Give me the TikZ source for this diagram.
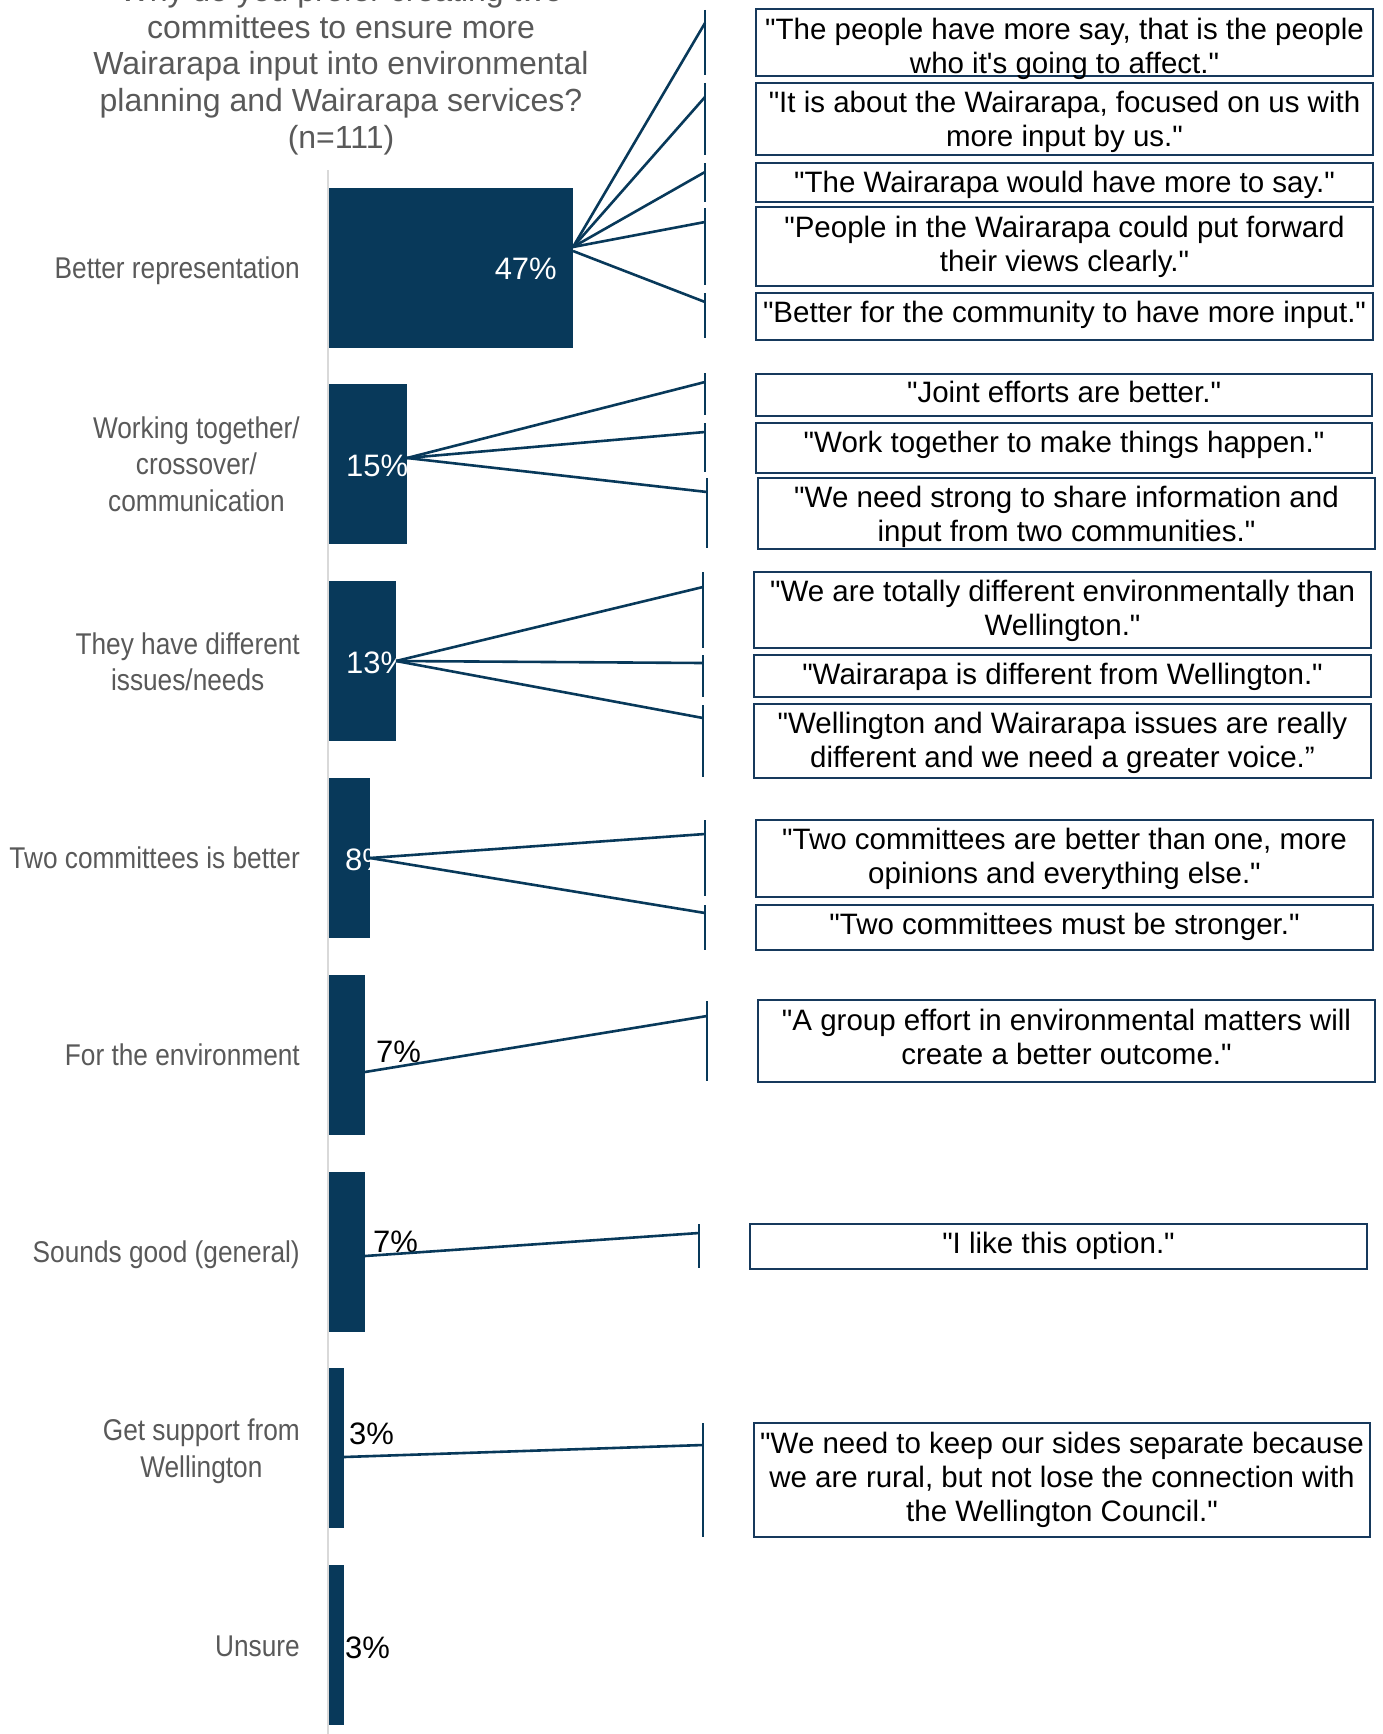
\documentclass[tikz,border=0pt]{standalone}
\usepackage{fontspec}
\setmainfont{Liberation Sans}[Ligatures=TeXOff]
\newfontfamily\narrowfont{Liberation Sans}[FakeStretch=0.875,Ligatures=TeXOff]
\definecolor{barblue}{RGB}{8,57,90}
\definecolor{boxblue}{RGB}{22,57,92}
\definecolor{labgrey}{RGB}{89,89,89}
\definecolor{axisgrey}{RGB}{217,217,217}
\begin{document}
\begin{tikzpicture}[x=1pt,y=-1pt,
  bar/.style={fill=barblue, draw=none, inner sep=0, outer sep=0, anchor=north west, minimum height=160},
  conn/.style={draw=barblue, line width=2.6},
  lab/.style={text=labgrey, align=center, inner sep=0, anchor=east, font=\narrowfont\fontsize{30}{36.5}\selectfont},
  pctw/.style={text=white, inner sep=0, font=\fontsize{31}{36}\selectfont},
  pctb/.style={text=black, inner sep=0, font=\fontsize{31}{36}\selectfont},
  qbox/.style={draw=boxblue, line width=2.6, inner sep=0},
  qtext/.style={align=center, inner sep=0, text=black, font=\fontsize{29.5}{34}\selectfont},
  ttl/.style={text=labgrey, align=center, inner sep=0, font=\fontsize{32}{36.7}\selectfont}]
\useasboundingbox (0,0) rectangle (1382,1734);

% title
\node[ttl] (title) at (341,66.5) {Why do you prefer creating two\\committees to ensure more\\Wairarapa input into environmental\\planning and Wairarapa services?\\(n=111)};

% axis
\draw[axisgrey, line width=2] (328,170) -- (328,1734);

% bars
\node[bar, minimum width=244] (bar1) at (329,188) {};
\node[bar, minimum width=78]  (bar2) at (329,384) {};
\node[bar, minimum width=67]  (bar3) at (329,581) {};
\node[bar, minimum width=41]  (bar4) at (329,778) {};
\node[bar, minimum width=36]  (bar5) at (329,975) {};
\node[bar, minimum width=36]  (bar6) at (329,1172) {};
\node[bar, minimum width=15]  (bar7) at (329,1368) {};
\node[bar, minimum width=15]  (bar8) at (329,1565) {};

% category labels
\node[lab] (l1) at (300,271) {Better representation};
\node[lab] (l2) at (300,464) {Working together/\\crossover/\\communication};
\node[lab] (l3) at (300,662) {They have different\\issues/needs};
\node[lab] (l4) at (300,858) {Two committees is better};
\node[lab] (l5) at (300,1055) {For the environment};
\node[lab] (l6) at (300,1255) {Sounds good (general)};
\node[lab] (l7) at (300,1451) {Get support from\\Wellington};
\node[lab] (l8) at (300,1646) {Unsure};

% percentages
\node[pctw, anchor=east] (p1) at (557,269) {47\%};
\node[pctw, anchor=west] (p2) at (346,466) {15\%};
\node[pctw, anchor=west] (p3) at (346,663) {13\%};
\node[pctw, anchor=west] (p4) at (345,860) {8\%};
\node[pctb, anchor=west] (p5) at (376,1052) {7\%};
\node[pctb, anchor=west] (p6) at (373,1242) {7\%};
\node[pctb, anchor=west] (p7) at (349,1434) {3\%};
\node[pctb, anchor=west] (p8) at (345,1648) {3\%};

% quote boxes
\node[qbox, minimum width=617, minimum height=67]  (q1)  at (1064.5,42.5) {};
\node[qbox, minimum width=617, minimum height=72]  (q2)  at (1064.5,119) {};
\node[qbox, minimum width=617, minimum height=39]  (q3)  at (1064.5,182.5) {};
\node[qbox, minimum width=617, minimum height=79]  (q4)  at (1064.5,246.5) {};
\node[qbox, minimum width=617, minimum height=47]  (q5)  at (1064.5,316.5) {};
\node[qbox, minimum width=616, minimum height=42]  (q6)  at (1064,395) {};
\node[qbox, minimum width=616, minimum height=50]  (q7)  at (1064,448) {};
\node[qbox, minimum width=617, minimum height=71]  (q8)  at (1066.5,513.5) {};
\node[qbox, minimum width=617, minimum height=76]  (q9)  at (1062.5,610) {};
\node[qbox, minimum width=617, minimum height=42]  (q10) at (1062.5,676) {};
\node[qbox, minimum width=617, minimum height=74]  (q11) at (1062.5,741) {};
\node[qbox, minimum width=617, minimum height=77]  (q12) at (1064.5,858.5) {};
\node[qbox, minimum width=617, minimum height=45]  (q13) at (1064.5,927.5) {};
\node[qbox, minimum width=617, minimum height=82]  (q14) at (1066.5,1041) {};
\node[qbox, minimum width=617, minimum height=45]  (q15) at (1058.5,1246.5) {};
\node[qbox, minimum width=616, minimum height=114] (q16) at (1062,1480) {};

% quote texts
\node[qtext] (q1t)  at (1064.5,48.5) {"The people have more say, that is the people\\who it's going to affect."};
\node[qtext] (q2t)  at (1064.5,122) {"It is about the Wairarapa, focused on us with\\more input by us."};
\node[qtext] (q3t)  at (1064.5,184.5) {"The Wairarapa would have more to say."};
\node[qtext] (q4t)  at (1064.5,246.5) {"People in the Wairarapa could put forward\\their views clearly."};
\node[qtext] (q5t)  at (1064.5,314.5) {"Better for the community to have more input."};
\node[qtext] (q6t)  at (1064,392) {"Joint efforts are better."};
\node[qtext] (q7t)  at (1064,445) {"Work together to make things happen."};
\node[qtext] (q8t)  at (1066.5,516.5) {"We need strong to share information and\\input from two communities."};
\node[qtext] (q9t)  at (1062.5,611) {"We are totally different environmentally than\\Wellington."};
\node[qtext] (q10t) at (1062.5,677) {"Wairarapa is different from Wellington."};
\node[qtext] (q11t) at (1062.5,743) {"Wellington and Wairarapa issues are really\\different and we need a greater voice.”};
\node[qtext] (q12t) at (1064.5,858.5) {"Two committees are better than one, more\\opinions and everything else."};
\node[qtext] (q13t) at (1064.5,926.5) {"Two committees must be stronger."};
\node[qtext] (q14t) at (1066.5,1037) {"A group effort in environmental matters will\\create a better outcome."};
\node[qtext] (q15t) at (1058.5,1245.5) {"I like this option."};
\node[qtext] (q16t) at (1062,1480) {"We need to keep our sides separate because\\we are rural, but not lose the connection with\\the Wellington Council."};

% connector origins
\coordinate (o1) at (573,247);
\coordinate (o1b) at (573,251);
\coordinate (o2) at (407,458);
\coordinate (o3) at (396,661);
\coordinate (o4) at (370,858);
\coordinate (o5) at (365,1072);
\coordinate (o6) at (365,1256);
\coordinate (o7) at (344,1457);

% ticks: top, bottom, hit
\foreach \n/\x/\ya/\yb/\yh in {1/705/10/75/23, 2/705/83/155/97, 3/705/163/202/172, 4/705/208/285/222, 5/705/293/338/302,
  6/705/373/415/382, 7/705/423/472/432, 8/707/478/548/492,
  9/703/572/648/587, 10/703/655/697/663, 11/703/705/777/718,
  12/705/820/896/834, 13/705/905/950/913,
  14/707/1001/1081/1016, 15/699/1224/1268/1233, 16/703/1423/1537/1445}{
  \coordinate (ta\n) at (\x,\ya);
  \coordinate (tb\n) at (\x,\yb);
  \coordinate (h\n) at (\x,\yh);
  \draw[conn] (ta\n) -- (tb\n);
}

% connectors
\draw[conn] (o1) -- (h1);
\draw[conn] (o1) -- (h2);
\draw[conn] (o1) -- (h3);
\draw[conn] (o1) -- (h4);
\draw[conn] (o1b) -- (h5);
\draw[conn] (o2) -- (h6);
\draw[conn] (o2) -- (h7);
\draw[conn] (o2) -- (h8);
\draw[conn] (o3) -- (h9);
\draw[conn] (o3) -- (h10);
\draw[conn] (o3) -- (h11);
\draw[conn] (o4) -- (h12);
\draw[conn] (o4) -- (h13);
\draw[conn] (o5) -- (h14);
\draw[conn] (o6) -- (h15);
\draw[conn] (o7) -- (h16);
\end{tikzpicture}
\end{document}
